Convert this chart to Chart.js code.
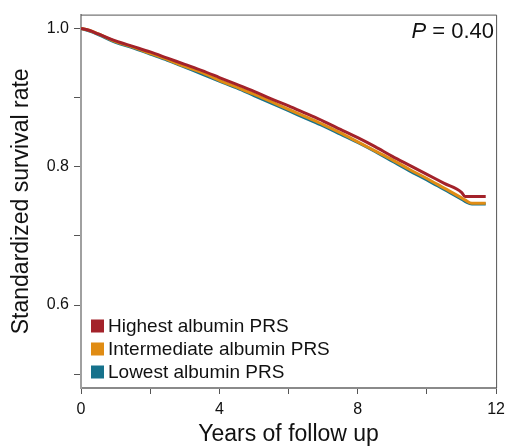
<!DOCTYPE html>
<html>
<head>
<meta charset="utf-8">
<script src="https://cdn.jsdelivr.net/npm/chart.js@4.4.0/dist/chart.umd.min.js"></script>
<style>
  body { margin: 0; background: #fff; }
  canvas { display: block; }
</style>
</head>
<body>
<canvas id="myChart" width="511" height="448"></canvas>
<script>
// years of follow up (shared by all three curves)
var years = [0, 0.25, 0.5, 1, 1.5, 2, 2.5, 3, 3.5, 4, 4.5, 5, 5.5, 6, 6.5, 7, 7.5, 8, 8.5, 9, 9.5, 10, 10.5, 11, 11.1, 11.3, 11.7];

// standardized survival
var highest = [1.000, 0.997, 0.992, 0.982, 0.974, 0.966, 0.957, 0.948, 0.939, 0.929, 0.919, 0.909, 0.898, 0.888, 0.877, 0.866, 0.854, 0.842, 0.829, 0.815, 0.802, 0.789, 0.776, 0.763, 0.757, 0.757, 0.757];
var intermediate = [1.000, 0.997, 0.992, 0.981, 0.973, 0.964, 0.955, 0.945, 0.936, 0.925, 0.915, 0.905, 0.894, 0.883, 0.872, 0.861, 0.849, 0.836, 0.823, 0.810, 0.796, 0.783, 0.769, 0.755, 0.752, 0.747, 0.747];
var lowest = [1.000, 0.996, 0.991, 0.980, 0.972, 0.963, 0.954, 0.944, 0.934, 0.924, 0.914, 0.903, 0.892, 0.881, 0.870, 0.859, 0.847, 0.835, 0.822, 0.808, 0.794, 0.781, 0.767, 0.753, 0.750, 0.746, 0.746];

var seriesNames = ['Highest albumin PRS', 'Intermediate albumin PRS', 'Lowest albumin PRS'];
var seriesColors = ['#a3222a', '#e08c14', '#16728c'];

var xTicks = [0, 2, 4, 6, 8, 10, 12];
var xLabels = [0, 4, 8, 12];
var yTicks = [0.5, 0.6, 0.7, 0.8, 0.9, 1.0];
var yLabels = [0.6, 0.8, 1.0];

var pValueText = '0.40';

var FONT = "'Liberation Sans', Arial, Helvetica, sans-serif";

function toPoints(ys){
    var pts = [];
    for(var i = 0; i < years.length; i++){
        pts.push({x: years[i], y: ys[i]});
    }
    return pts;
}

function hasLabel(list, v){
    for(var i = 0; i < list.length; i++){
        if(Math.abs(list[i] - v) < 1e-6) return true;
    }
    return false;
}

// box on top/right, legend and P value inside the plot
var extras = {
    id: 'extras',
    afterDraw: function(chart){
        var c = chart.ctx;
        var a = chart.chartArea;
        c.save();
        c.strokeStyle = '#555';
        c.lineWidth = 1;
        c.beginPath();
        c.moveTo(a.left, a.top + 0.5);
        c.lineTo(a.right + 0.5, a.top + 0.5);
        c.lineTo(a.right + 0.5, a.bottom);
        c.stroke();

        // P value
        c.fillStyle = '#111';
        c.textBaseline = 'middle';
        c.textAlign = 'right';
        c.font = '22px ' + FONT;
        var rest = ' = ' + pValueText;
        var wRest = c.measureText(rest).width;
        c.fillText(rest, 494, 32);
        c.font = 'italic 22px ' + FONT;
        c.fillText('P', 494 - wRest, 32);

        // legend
        c.textAlign = 'left';
        c.font = '19px ' + FONT;
        var rows = [326, 349, 372];
        for(var i = 0; i < seriesNames.length; i++){
            c.fillStyle = seriesColors[i];
            c.fillRect(91, rows[i] - 6.5, 13, 13);
            c.fillStyle = '#111';
            c.fillText(seriesNames[i], 108, rows[i] + 1);
        }
        c.restore();
    }
};

var ctx = document.getElementById('myChart').getContext('2d');
var datasets = [];
var allData = [highest, intermediate, lowest];
for(var i = 0; i < allData.length; i++){
    datasets.push({
        label: seriesNames[i],
        data: toPoints(allData[i]),
        borderColor: seriesColors[i],
        backgroundColor: seriesColors[i],
        borderWidth: 3,
        pointRadius: 0,
        cubicInterpolationMode: 'monotone',
        fill: false
    });
}

new Chart(ctx, {
    type: 'line',
    data: { datasets: datasets },
    plugins: [extras],
    options: {
        responsive: false,
        animation: false,
        layout: { padding: { top: 10, right: 11, left: 0, bottom: 0 } },
        plugins: {
            legend: { display: false },
            tooltip: { enabled: false }
        },
        scales: {
            x: {
                type: 'linear',
                min: 0,
                max: 12,
                afterBuildTicks: function(axis){
                    axis.ticks = xTicks.map(function(v){ return {value: v}; });
                },
                afterFit: function(axis){ axis.height = 60; },
                border: { display: true, color: '#8a8a8a', width: 2 },
                grid: { display: true, drawOnChartArea: false, drawTicks: true, tickLength: 6, color: '#555', lineWidth: 1 },
                ticks: {
                    autoSkip: false,
                    maxRotation: 0,
                    padding: 6,
                    color: '#111',
                    font: { family: FONT, size: 16 },
                    callback: function(v){ return hasLabel(xLabels, v) ? String(v) : ''; }
                },
                title: {
                    display: true,
                    text: 'Years of follow up',
                    color: '#111',
                    font: { family: FONT, size: 23 },
                    padding: { top: 2, bottom: 0 }
                }
            },
            y: {
                type: 'linear',
                min: 0.48,
                max: 1.02,
                afterBuildTicks: function(axis){
                    axis.ticks = yTicks.map(function(v){ return {value: v}; });
                },
                afterFit: function(axis){ axis.width = 81; },
                border: { display: true, color: '#a0a0a0', width: 2 },
                grid: { display: true, drawOnChartArea: false, drawTicks: true, tickLength: 7, color: '#555', lineWidth: 1 },
                ticks: {
                    autoSkip: false,
                    padding: 5,
                    color: '#111',
                    font: { family: FONT, size: 16 },
                    callback: function(v){ return hasLabel(yLabels, v) ? v.toFixed(1) : ''; }
                },
                title: {
                    display: true,
                    text: 'Standardized survival rate',
                    color: '#111',
                    font: { family: FONT, size: 23 },
                    padding: { top: 8, bottom: 0 }
                }
            }
        }
    }
});
</script>
</body>
</html>
